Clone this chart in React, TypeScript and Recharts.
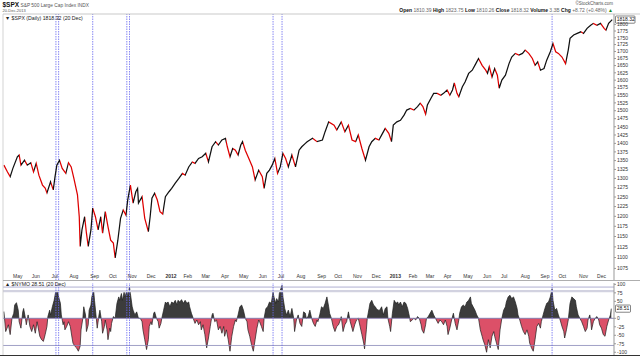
import React from 'react';
import { ComposedChart, Line, Area, XAxis, YAxis, ReferenceLine } from 'recharts';

const FONT = '"Liberation Sans", Arial, sans-serif';

// S&P 500 ($SPX) daily close, sampled; x = trading-day index from mid-April 2011
const spxDay = [1,5,8,11,16,18,20,24,27,31,34,37,40,44,47,49,53,56,58,60,63,66,70,73,76,79,83,85,86,88,91,93,95,98,100,103,106,109,111,114,117,120,123,125,128,131,134,137,139,142,145,148,150,151,155,158,162,164,166,169,172,175,178,181,185,188,192,196,200,203,207,211,214,218,222,226,229,233,237,240,244,248,250,253,256,259,262,265,267,270,274,278,281,285,289,291,294,297,300,303,306,309,312,315,318,322,326,330,333,337,339,345,350,356,359,363,369,372,377,381,385,389,393,396,400,404,408,411,415,419,423,426,430,433,435,439,443,447,450,454,458,462,465,468,471,473,477,480,484,488,491,495,498,501,503,506,508,512,515,519,523,527,530,534,538,540,542,545,548,551,553,556,560,564,567,571,575,579,582,586,590,593,596,599,603,606,610,613,616,619,623,627,630,632,636,640,644,647,651,655,658,662,666,670,672,675,679];
const spxClose = [1337,1318,1305,1328,1361,1366,1337,1351,1337,1344,1318,1342,1309,1282,1274,1261,1291,1269,1305,1337,1351,1328,1314,1344,1332,1300,1256,1199,1126,1166,1199,1158,1126,1166,1221,1199,1166,1199,1158,1212,1174,1141,1134,1099,1141,1195,1216,1203,1242,1282,1234,1264,1273,1234,1251,1195,1162,1199,1247,1260,1242,1212,1206,1251,1264,1273,1287,1300,1314,1309,1332,1346,1342,1356,1361,1371,1346,1390,1405,1395,1410,1415,1390,1361,1385,1380,1366,1395,1405,1380,1356,1332,1296,1323,1305,1273,1314,1323,1337,1356,1314,1332,1371,1356,1332,1366,1332,1380,1390,1400,1405,1415,1405,1410,1435,1465,1455,1440,1465,1435,1455,1410,1405,1425,1385,1351,1390,1405,1415,1410,1430,1445,1430,1405,1455,1465,1470,1486,1502,1507,1502,1513,1524,1513,1489,1518,1540,1556,1556,1550,1556,1567,1550,1567,1591,1556,1545,1578,1594,1623,1634,1657,1675,1651,1634,1623,1646,1611,1640,1617,1573,1600,1617,1657,1680,1693,1687,1693,1705,1693,1675,1651,1663,1634,1640,1669,1699,1729,1699,1693,1680,1657,1705,1748,1760,1766,1772,1766,1785,1797,1804,1797,1804,1785,1778,1804,1818.32];

// $NYMO McClellan Oscillator
const nymoDay = [1,3,6,8,10,12,13,15,17,18,20,22,23,25,26,28,30,32,34,36,38,39,41,43,45,47,49,50,52,53,55,57,59,61,62,64,65,67,68,69,71,73,75,77,78,80,82,84,86,87,89,90,92,93,95,96,98,99,101,102,104,105,107,108,110,111,113,114,116,117,119,120,121,123,125,127,129,130,132,133,135,136,138,139,141,142,144,145,147,149,151,153,155,156,158,160,162,163,165,166,168,169,171,173,174,176,177,179,181,182,184,186,188,190,192,194,195,197,199,201,203,205,207,208,210,212,214,216,218,220,221,223,225,227,229,231,233,234,236,238,240,242,244,246,247,249,251,253,255,257,259,260,262,264,266,268,270,272,273,275,277,279,281,283,285,286,288,290,291,293,295,297,299,301,302,304,305,307,308,309,311,312,314,316,318,320,322,324,325,327,329,331,333,335,337,338,340,342,344,346,348,350,351,353,355,357,359,361,363,364,366,368,370,372,374,376,377,379,381,383,385,387,389,390,392,394,396,398,400,402,403,405,406,408,409,411,413,415,416,418,420,422,424,426,428,429,431,432,434,436,438,440,441,443,445,447,449,451,453,454,456,458,460,462,464,466,467,469,471,472,474,476,478,480,482,483,485,487,489,491,493,495,496,498,500,502,504,506,508,509,511,513,515,517,519,521,522,524,526,528,530,532,534,535,537,539,541,543,545,547,548,550,552,554,556,558,560,561,563,565,567,569,571,573,574,576,578,580,582,584,586,587,589,591,593,595,597,599,600,602,604,606,608,610,612,613,615,617,619,621,623,625,626,628,630,632,634,636,638,639,641,643,645,647,649,651,652,654,655,656,658,660,662,664,665,667,669,671,673,675,677,678];
const nymoValue = [20,-39,-19,-48,0,15,39,46,24,-10,-29,19,29,0,-19,10,-24,-39,-19,-44,-10,-24,-53,-63,-68,-48,-24,5,24,10,34,53,82,77,63,44,10,-19,-10,-34,-24,-10,-24,-58,-73,-82,-87,-97,-82,-34,0,34,10,-39,-19,24,39,63,82,53,0,-29,10,24,-10,-44,-24,-5,-34,-63,-29,-39,-15,5,0,44,63,53,73,53,77,63,82,63,92,73,34,24,10,19,0,0,-10,-34,-63,-92,-63,-24,-10,-19,15,19,0,-10,-29,-15,0,24,48,44,48,34,48,44,53,39,53,48,55,44,53,44,48,34,15,0,-15,-5,-19,-10,-34,-19,-48,-87,-58,-24,10,15,-10,-5,-34,-24,-44,-24,-53,-34,-63,-97,-53,-24,-5,-10,10,34,39,24,0,-10,-34,-53,-78,-97,-63,-29,-5,-10,-24,-39,0,29,34,48,44,77,63,44,58,48,73,82,97,63,29,10,24,5,29,0,-39,-5,10,-15,-24,19,15,0,5,24,0,-15,-24,-5,-10,10,34,29,44,63,34,15,0,-24,-39,-24,-19,-5,5,-39,-19,-10,19,-10,-29,-39,-19,-5,0,-24,-48,-73,-90,-34,0,29,44,53,39,34,29,24,24,34,10,29,34,0,-24,-39,15,53,44,48,39,48,34,48,44,29,5,-10,-5,0,-5,5,0,-19,-34,-44,-19,0,5,15,24,10,0,-5,-15,-5,-10,-19,-5,-24,-48,-29,-5,15,-15,-34,-5,15,34,39,34,48,53,63,44,34,24,10,0,-34,-53,-63,-78,-100,-63,-87,-53,-39,-53,-73,-92,-34,0,24,34,48,63,68,58,63,48,29,10,-5,-24,-39,-48,-34,-53,-73,-87,-97,-63,-24,-15,-29,-10,10,29,44,48,63,87,53,24,29,10,-5,-24,-39,-58,-34,-5,44,63,58,53,34,10,0,-10,-24,-39,-29,-5,10,-5,-34,-10,0,5,-5,-19,-29,-48,-53,-24,-5,10,28.51];

const priceTicks = [1075,1100,1125,1150,1175,1200,1225,1250,1275,1300,1325,1350,1375,1400,1425,1450,1475,1500,1525,1550,1575,1600,1625,1650,1675,1700,1725,1750,1775,1800];
// the 25 label is covered by the last-value box in the reference
const nymoTicks = [100,75,50,0,-25,-50,-75,-100];
const nymoGuides = [92, 80, -80];
const monthTickDays = [10,31,53,73,96,117,138,159,180,200,220,242,262,284,305,326,349,368,389,410,430,451,470,490,512,534,554,576,598,618,641,661];
const monthTickLabels = ['May','Jun','Jul','Aug','Sep','Oct','Nov','Dec','2012','Feb','Mar','Apr','May','Jun','Jul','Aug','Sep','Oct','Nov','Dec','2013','Feb','Mar','Apr','May','Jun','Jul','Aug','Sep','Oct','Nov','Dec'];
const markerDays = [59,62,100,138,141,301,311,612];

const spxData = spxDay.map((t, i) => ({ t, close: spxClose[i] }));
const nymoData = nymoDay.map((t, i) => ({ t, v: nymoValue[i] }));
const lastClose = spxClose[spxClose.length - 1];
const lastNymo = nymoValue[nymoValue.length - 1];

const UP = '#111111';
const DOWN = '#dd0000';

const spanDays = spxDay[spxDay.length - 1] - spxDay[0];
const spxStops: React.ReactElement[] = [];
for (let i = 0; i < spxDay.length - 1; i++) {
  const c = spxClose[i + 1] >= spxClose[i] ? UP : DOWN;
  const o1 = ((spxDay[i] - spxDay[0]) / spanDays) * 100;
  const o2 = ((spxDay[i + 1] - spxDay[0]) / spanDays) * 100;
  spxStops.push(<stop key={'a' + i} offset={o1 + '%'} stopColor={c} />);
  spxStops.push(<stop key={'b' + i} offset={o2 + '%'} stopColor={c} />);
}

const nMax = Math.max(...nymoValue);
const nMin = Math.min(...nymoValue);
const zeroOffset = (nMax / (nMax - nMin)) * 100;

const MonthTick = (props: any) => {
  const { x, y, payload } = props;
  const idx = monthTickDays.indexOf(payload.value);
  const label = idx >= 0 ? monthTickLabels[idx] : '';
  const bold = /^\d{4}$/.test(label);
  return (
    <text x={x + 1} y={y - 2.5} fontSize={5} fontFamily={FONT} fill="#333" fontWeight={bold ? 'bold' : 'normal'} textAnchor="start">
      {label}
    </text>
  );
};

const ValueBox = (props: any) => {
  const { viewBox, text, w } = props;
  const x = viewBox.x + viewBox.width + 1.5;
  const y = viewBox.y;
  return (
    <g>
      <rect x={x} y={y - 3.6} width={w} height={7.2} fill="#ffffff" stroke="#333" strokeWidth={0.6} rx={0.8} />
      <text x={x + 1.2} y={y + 1.8} fontSize={5} fontFamily={FONT} fill="#111">{text}</text>
    </g>
  );
};

const yTick = { fontSize: 5, fill: '#333', fontFamily: FONT };

export default function App() {
  return (
    <div style={{ position: 'absolute', left: 0, top: 0, width: 640, height: 356, background: '#fff', overflow: 'hidden', fontFamily: FONT }}>
      <div style={{ position: 'absolute', left: 0, top: 0 }}>
        <ComposedChart width={640} height={281} data={spxData} margin={{ top: 14, right: 0, bottom: 0, left: 3 }}>
          <defs>
            <linearGradient id="spxStroke" x1="0" y1="0" x2="1" y2="0">
              {spxStops}
            </linearGradient>
          </defs>
          <XAxis type="number" dataKey="t" domain={[0, 681]} allowDataOverflow ticks={monthTickDays} interval={0}
            tick={<MonthTick />} tickLine={false} axisLine={false} tickSize={0} tickMargin={0} height={1} />
          <YAxis orientation="right" type="number" scale="log" domain={[1049, 1840]} allowDataOverflow ticks={priceTicks}
            interval={0} width={26} tick={yTick} tickSize={2} tickMargin={1} stroke="#999" />
          {markerDays.map((d) => (
            <ReferenceLine key={'m' + d} x={d} stroke="#6a6af0" strokeDasharray="1.5 1" strokeWidth={0.8} />
          ))}
          <Line type="linear" dataKey="close" stroke="url(#spxStroke)" strokeWidth={1.25} dot={false} isAnimationActive={false} />
          <ReferenceLine y={lastClose} stroke="none" label={<ValueBox text="1818.32" w={19.5} />} />
        </ComposedChart>
      </div>
      <div style={{ position: 'absolute', left: 0, top: 281 }}>
        <ComposedChart width={640} height={75} data={nymoData} margin={{ top: 2, right: 0, bottom: 0, left: 3 }}>
          <defs>
            <linearGradient id="nymoFill" x1="0" y1="0" x2="0" y2="1">
              <stop offset={zeroOffset + '%'} stopColor="#3c3c3c" />
              <stop offset={zeroOffset + '%'} stopColor="#dc5068" />
            </linearGradient>
          </defs>
          <XAxis type="number" dataKey="t" domain={[0, 681]} allowDataOverflow hide />
          <YAxis orientation="right" type="number" domain={[-111, 104]} allowDataOverflow ticks={nymoTicks} interval={0}
            width={26} tick={yTick} tickSize={2} tickMargin={1} stroke="#999" />
          <ReferenceLine y={nymoGuides[0]} stroke="#9a9ac4" strokeWidth={0.8} />
          <ReferenceLine y={nymoGuides[1]} stroke="#d2d2e0" strokeWidth={2.2} />
          <Area type="linear" dataKey="v" baseValue={0} stroke="#1e1e1e" strokeWidth={0.7} fill="url(#nymoFill)" fillOpacity={1} isAnimationActive={false} />
          <ReferenceLine y={0} stroke="#7c7cb0" strokeWidth={0.9} />
          <ReferenceLine y={nymoGuides[2]} stroke="#8a8ab8" strokeWidth={0.8} />
          {markerDays.map((d) => (
            <ReferenceLine key={'n' + d} x={d} stroke="#6a6af0" strokeDasharray="1.5 1" strokeWidth={0.8} />
          ))}
          <ReferenceLine y={lastNymo} stroke="none" label={<ValueBox text="28.51" w={15} />} />
        </ComposedChart>
      </div>
      <svg width={640} height={356} style={{ position: 'absolute', left: 0, top: 0, pointerEvents: 'none' }}>
        <line x1={3} y1={14} x2={640} y2={14} stroke="#bbb" strokeWidth={0.8} />
        <line x1={3} y1={14} x2={3} y2={356} stroke="#c8c8c8" strokeWidth={0.8} />
        <line x1={3} y1={280.5} x2={640} y2={280.5} stroke="#999" strokeWidth={0.8} />
        <line x1={0} y1={355.5} x2={640} y2={355.5} stroke="#333" strokeWidth={1} />
        <text x={2.5} y={7} fontSize={6.5} fontWeight="bold" fontFamily={FONT} fill="#111">$SPX</text>
        <text x={20.5} y={6.5} fontSize={4.8} fontFamily={FONT} fill="#555">{'S&P 500 Large Cap Index  INDX'}</text>
        <text x={2.5} y={12} fontSize={4} fontFamily={FONT} fill="#555">20-Dec-2013</text>
        <text x={613} y={5} fontSize={4.5} fontFamily={FONT} fill="#555" textAnchor="end">©StockCharts.com</text>
        <text x={613} y={11.5} fontSize={5} fontFamily={FONT} fill="#666" textAnchor="end">
          <tspan fontWeight="bold" fill="#111">Open</tspan> 1810.39  <tspan fontWeight="bold" fill="#111">High</tspan> 1823.75  <tspan fontWeight="bold" fill="#111">Low</tspan> 1810.26  <tspan fontWeight="bold" fill="#111">Close</tspan> 1818.32  <tspan fontWeight="bold" fill="#111">Volume</tspan> 3.3B  <tspan fontWeight="bold" fill="#111">Chg</tspan> +8.72 (+0.48%) <tspan fill="#1a8a1a">▲</tspan>
        </text>
        <text x={5} y={20} fontSize={5.2} fontFamily={FONT} fill="#222">▼ $SPX (Daily) 1818.32 (20 Dec)</text>
        <text x={5} y={285.5} fontSize={5.2} fontFamily={FONT} fill="#222">▲ $NYMO 28.51 (20 Dec)</text>
      </svg>
    </div>
  );
}
